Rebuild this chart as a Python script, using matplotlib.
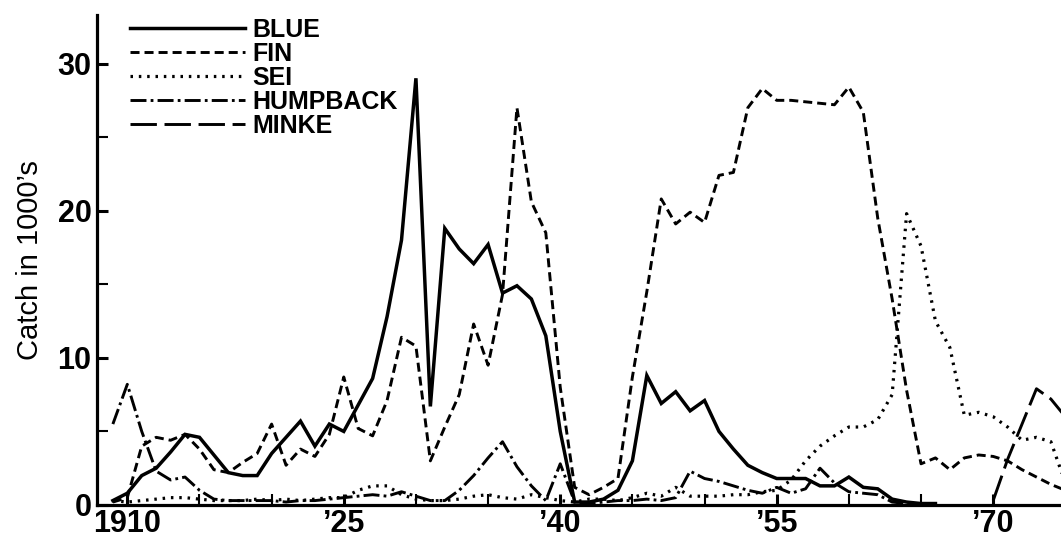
import numpy as np
import matplotlib
matplotlib.use("Agg")
import matplotlib.pyplot as plt
from matplotlib.ticker import FixedLocator

nan = np.nan
years = list(range(1909, 1976))

blue = [0.3, 0.8, 2.0, 2.5, 3.6, 4.8, 4.6, 3.4, 2.2, 2.0,
        2.0, 3.5, 4.6, 5.7, 4.0, 5.5, 5.0, 6.8, 8.6, 12.8,
        18.0, 29.0, 6.7, 18.8, 17.4, 16.4, 17.7, 14.4, 14.9, 14.0,
        11.5, 5.0, 0.2, 0.2, 0.4, 1.0, 3.0, 8.8, 6.9, 7.7,
        6.4, 7.1, 5.0, 3.8, 2.7, 2.2, 1.8, 1.8, 1.8, 1.3,
        1.3, 1.9, 1.2, 1.1, 0.4, 0.2, 0.1, 0.1, nan, nan,
        nan, nan, nan, nan, nan, nan, nan]

fin = [0.2, 0.5, 4.0, 4.6, 4.4, 4.8, 3.8, 2.4, 2.2, 2.9,
       3.5, 5.5, 2.7, 3.8, 3.3, 4.8, 8.7, 5.2, 4.7, 7.1,
       11.4, 10.8, 3.0, 5.3, 7.5, 12.3, 9.5, 14.3, 27.0, 20.6,
       18.5, 8.0, 1.2, 0.7, 1.2, 1.8, 8.7, 14.5, 20.8, 19.1,
       19.9, 19.2, 22.4, 22.6, 27.0, 28.3, 27.5, 27.5, 27.4, 27.3,
       27.2, 28.4, 26.7, 19.5, 14.0, 7.8, 2.8, 3.2, 2.4, 3.2,
       3.4, 3.3, 3.0, 2.4, 1.9, 1.4, 1.0]

sei = [0.3, 0.2, 0.3, 0.4, 0.5, 0.5, 0.4, 0.3, 0.3, 0.3,
       0.4, 0.3, 0.4, 0.3, 0.4, 0.5, 0.5, 1.0, 1.3, 1.3,
       0.7, 0.4, 0.3, 0.3, 0.4, 0.6, 0.7, 0.5, 0.4, 0.7,
       0.5, 0.3, 0.2, 0.4, 0.4, 0.3, 0.5, 0.8, 0.6, 1.2,
       0.6, 0.6, 0.6, 0.7, 0.7, 0.9, 1.0, 1.7, 3.0, 4.0,
       4.7, 5.3, 5.3, 5.8, 7.5, 19.8, 17.6, 12.5, 10.7, 6.1,
       6.3, 6.0, 5.3, 4.4, 4.6, 4.3, 1.5]

humpback = [5.5, 8.2, 5.0, 2.3, 1.7, 1.9, 1.0, 0.4, 0.3, 0.3,
            0.3, 0.3, 0.2, 0.3, 0.3, 0.4, 0.5, 0.6, 0.7, 0.6,
            0.9, 0.6, 0.3, 0.3, 1.0, 2.0, 3.2, 4.3, 2.6, 1.3,
            0.3, 2.8, 0.2, 0.1, 0.2, 0.3, 0.3, 0.4, 0.3, 0.5,
            2.3, 1.8, 1.6, 1.3, 1.0, 0.8, 1.2, 0.8, 1.1, 2.5,
            1.5, 0.9, 0.8, 0.7, 0.2, 0.1, 0.1, 0.1, nan, nan,
            nan, nan, nan, nan, nan, nan, nan]

minke = [nan] * 61 + [0.3, 3.1, 5.5, 7.9, 7.2, 6.0]

series_names = ["BLUE", "FIN", "SEI", "HUMPBACK", "MINKE"]
xtick_years = [1910, 1925, 1940, 1955, 1970]
xtick_labels = ["1910", "\u201925", "\u201940", "\u201955", "\u201970"]
ytick_values = [0, 10, 20, 30]
ytick_labels = ["0", "10", "20", "30"]
y_label = "Catch in 1000\u2019s"

plt.rcParams["font.family"] = ["Liberation Sans", "DejaVu Sans"]
plt.rcParams["lines.scale_dashes"] = False

fig = plt.figure(figsize=(10.61, 5.41), dpi=100)
ax = fig.add_axes([97 / 1061, 36 / 541, 964 / 1061, 490 / 541])

styles = [
    dict(linestyle="-", lw=2.5),
    dict(linestyle=(0, (6.5, 3.6)), lw=2.1),
    dict(linestyle=(0, (1.8, 4.2)), lw=2.3),
    dict(linestyle=(0, (11.5, 3.0, 2.0, 3.0)), lw=2.1),
    dict(linestyle=(0, (19.0, 5.5)), lw=2.1),
]
data = [blue, fin, sei, humpback, minke]
for name, vals, st in zip(series_names, data, styles):
    ax.plot(years, vals, color="black", label=name,
            solid_joinstyle="miter", dash_capstyle="butt", **st)

ax.set_xlim(1907.9, 1974.7)
ax.set_ylim(0, 33.3)

for s in ["top", "right"]:
    ax.spines[s].set_visible(False)
for s in ["left", "bottom"]:
    ax.spines[s].set_linewidth(2.3)

ax.set_xticks(xtick_years)
ax.set_xticklabels(xtick_labels)
ax.xaxis.set_minor_locator(FixedLocator(list(range(1910, 1975, 5))))
ax.set_yticks(ytick_values)
ax.set_yticklabels(ytick_labels)
ax.yaxis.set_minor_locator(FixedLocator([5, 15, 25]))

ax.tick_params(axis="both", which="major", direction="in", length=8, width=2.2,
               labelsize=22, pad=4)
ax.tick_params(axis="both", which="minor", direction="in", length=8, width=1.5)
ax.tick_params(axis="x", which="major", pad=3)
for lab in ax.get_xticklabels() + ax.get_yticklabels():
    lab.set_fontweight("bold")

ax.set_ylabel(y_label, fontsize=21, labelpad=10)

leg = ax.legend(loc="upper left", bbox_to_anchor=(130 / 1061, 1 - 18 / 541),
                bbox_transform=fig.transFigure, frameon=False,
                borderpad=0, borderaxespad=0, handlelength=4.6,
                handletextpad=0.3, labelspacing=0.0,
                prop=dict(size=18, weight="bold"))

fig.savefig("out.png", dpi=100, facecolor="white")
